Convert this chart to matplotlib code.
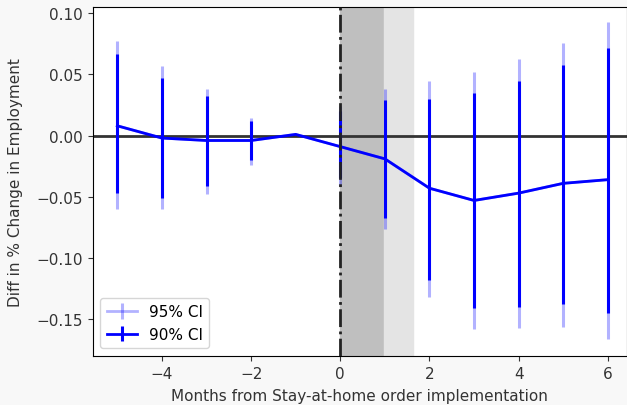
import numpy as np
import matplotlib
matplotlib.use("Agg")
import matplotlib.pyplot as plt

# event-study estimates, months relative to the order (month -1 is the reference)
months = [-5, -4, -3, -2, -1, 0, 1, 2, 3, 4, 5, 6]
coef = [0.008, -0.002, -0.004, -0.004, 0.001, -0.009, -0.019, -0.043, -0.053, -0.047, -0.039, -0.036]
lo95 = [-0.060, -0.060, -0.048, -0.024, 0.001, -0.041, -0.076, -0.132, -0.158, -0.157, -0.156, -0.166]
hi95 = [0.077, 0.057, 0.038, 0.014, 0.001, 0.024, 0.038, 0.045, 0.052, 0.063, 0.076, 0.093]
lo90 = [-0.047, -0.051, -0.041, -0.020, 0.001, -0.035, -0.067, -0.118, -0.141, -0.140, -0.138, -0.145]
hi90 = [0.067, 0.047, 0.032, 0.012, 0.001, 0.020, 0.029, 0.030, 0.035, 0.045, 0.058, 0.072]

x = np.array(months)
c = np.array(coef)
err95 = [c - np.array(lo95), np.array(hi95) - c]
err90 = [c - np.array(lo90), np.array(hi90) - c]

fig = plt.figure(figsize=(6.27, 4.06), dpi=100, facecolor="#f8f8f8")
ax = fig.add_axes([0.148, 0.121, 0.852, 0.859])
ax.set_facecolor("white")

ax.axvspan(0, 0.97, color="#bfbfbf", zorder=0)
ax.axvspan(0.97, 1.63, color="#e4e4e4", zorder=0)

ax.errorbar(x, c, yerr=err95, color="blue", alpha=0.3, lw=2, elinewidth=2.2, label="95% CI")
ax.errorbar(x, c, yerr=err90, color="blue", lw=2, elinewidth=2.2, label="90% CI")

ax.axhline(0, color="#333333", lw=2, zorder=1)
ax.axvline(0, color="#222222", lw=2, ls="-.", zorder=5)

ax.set_xlim(-5.55, 6.43)
ax.set_ylim(-0.18, 0.105)
ax.set_xticks([-4, -2, 0, 2, 4, 6])
ax.set_yticks([-0.15, -0.10, -0.05, 0.00, 0.05, 0.10])
ax.set_yticklabels(["\u22120.15", "\u22120.10", "\u22120.05", "0.00", "0.05", "0.10"])
ax.tick_params(labelsize=11, colors="#333333")
ax.set_xlabel("Months from Stay-at-home order implementation", fontsize=11, color="#333333", labelpad=5)
ax.set_ylabel("Diff in % Change in Employment", fontsize=11, color="#333333", labelpad=10)
ax.legend(loc="lower left", fontsize=11)

fig.savefig("out.png", dpi=100, facecolor=fig.get_facecolor())
